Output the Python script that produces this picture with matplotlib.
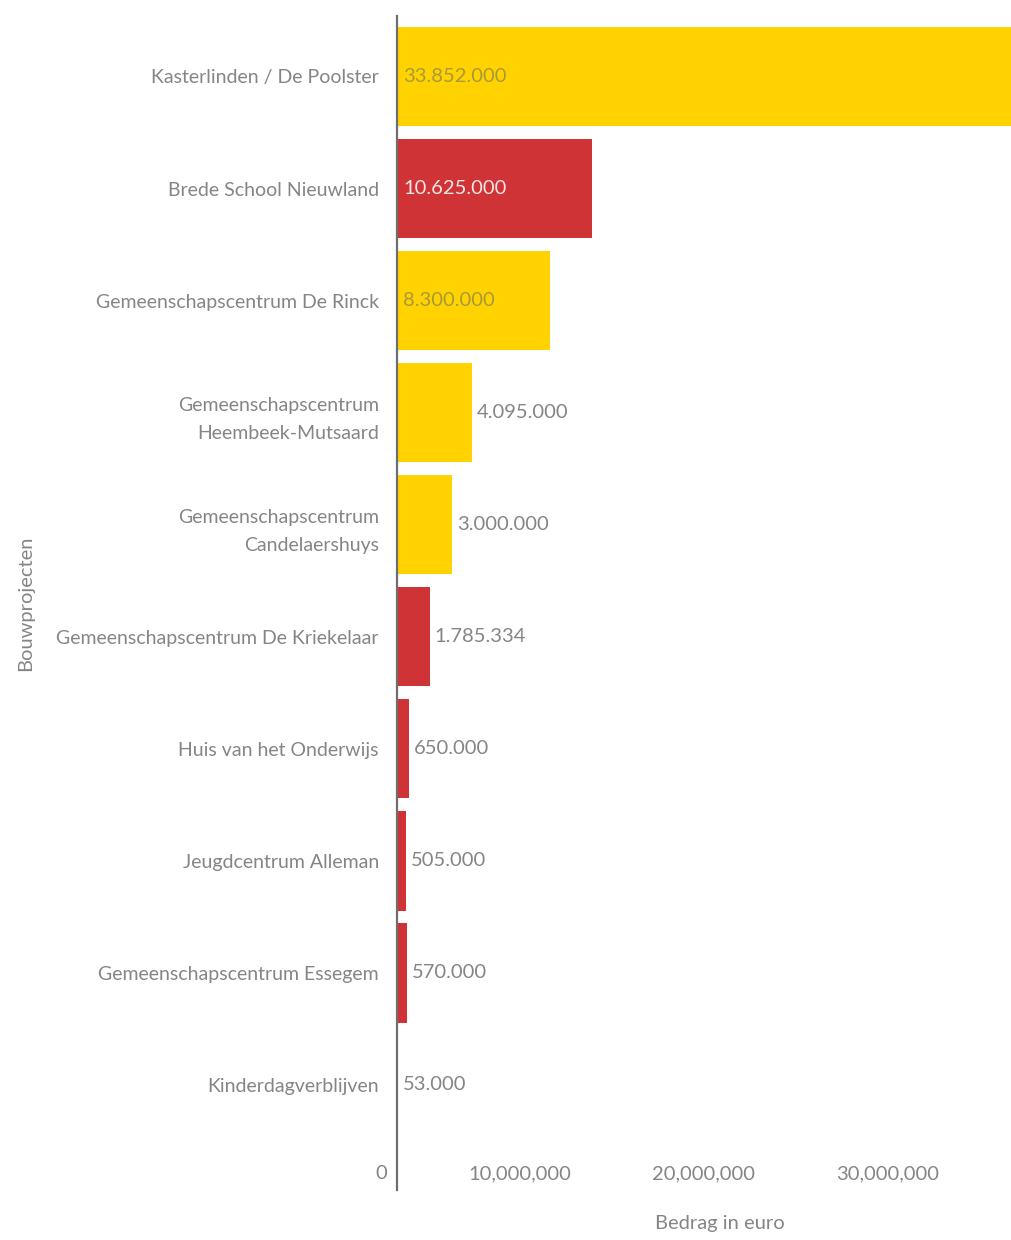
import matplotlib
matplotlib.use('Agg')
import matplotlib.pyplot as plt
import matplotlib.transforms as mtransforms

projects = ['Kasterlinden / De Poolster', 'Brede School Nieuwland',
            'Gemeenschapscentrum De Rinck',
            'Gemeenschapscentrum\nHeembeek-Mutsaard',
            'Gemeenschapscentrum\nCandelaershuys',
            'Gemeenschapscentrum De Kriekelaar', 'Huis van het Onderwijs',
            'Jeugdcentrum Alleman', 'Gemeenschapscentrum Essegem',
            'Kinderdagverblijven']
amounts = [33852000, 10625000, 8300000, 4095000, 3000000,
           1785334, 650000, 505000, 570000, 53000]
groups = ['geel', 'rood', 'geel', 'geel', 'geel',
          'rood', 'rood', 'rood', 'rood', 'rood']
x_ticks = [0, 10000000, 20000000, 30000000]

colors = {'geel': '#FFD200', 'rood': '#D03336'}
inside_text = {0: '#A89A3A', 1: '#F8E6E6', 2: '#A89A3A'}
grey = '#858585'
fs = 14
fs_num = 14.5

plt.rcParams['font.family'] = ['Lato', 'DejaVu Sans']

fig = plt.figure(figsize=(10.12, 12.4), dpi=100)
ax = fig.add_axes([397 / 1012, 1 - 1190 / 1240, 615 / 1012, 1174 / 1240])

ypos = list(range(len(projects)))
ax.barh(ypos, amounts, height=0.89, color=[colors[g] for g in groups],
        edgecolor='none')

ax.set_xlim(0, 615 / 18.4 * 1e6)
ax.set_ylim(9 + 0.94, -0.54)

ax.set_yticks(ypos)
ax.set_yticklabels(projects, fontsize=fs, color=grey, linespacing=1.75)
ax.tick_params(axis='y', length=0, pad=13)

ax.set_xticks(x_ticks)
ax.set_xticklabels([f'{t:,}' for t in x_ticks], fontsize=fs_num, color=grey)
ax.tick_params(axis='x', length=0, pad=-18)
shift = mtransforms.ScaledTranslation(-10 / 100, 0, fig.dpi_scale_trans)
for lbl in ax.get_xticklabels():
    lbl.set_horizontalalignment('right')
    lbl.set_transform(lbl.get_transform() + shift)

for s in ['top', 'right', 'bottom']:
    ax.spines[s].set_visible(False)
ax.spines['left'].set_color('#6E6E6E')
ax.spines['left'].set_linewidth(1.6)

for i, v in enumerate(amounts):
    txt = f'{v:,}'.replace(',', '.')
    if i in inside_text:
        ax.annotate(txt, (0, i), xytext=(4.5, 0), textcoords='offset points',
                    va='center', ha='left', fontsize=fs_num, color=inside_text[i])
    else:
        ax.annotate(txt, (v, i), xytext=(3.5, 0), textcoords='offset points',
                    va='center', ha='left', fontsize=fs_num, color=grey)

ax.set_xlabel('Bedrag in euro', fontsize=fs_num, color=grey)
ax.xaxis.set_label_coords((720 - 397) / 615, -(1215 - 1190) / 1174)
ax.set_ylabel('Bouwprojecten', fontsize=fs_num, color=grey)
ax.yaxis.set_label_coords(-(397 - 34) / 615, 0.5)

fig.savefig('out.png', dpi=100)
